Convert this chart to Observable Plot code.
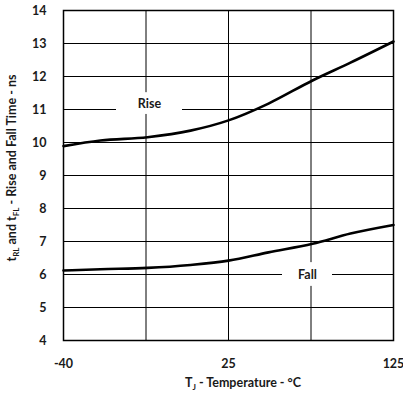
<!DOCTYPE html>
<html><head><meta charset="utf-8">
<script src="https://cdn.jsdelivr.net/npm/d3@7"></script>
<script src="https://cdn.jsdelivr.net/npm/@observablehq/plot@0.6"></script>
<style>
body{margin:0;background:#fff}
svg{font-family:Lato, "Liberation Sans", sans-serif}
</style>
</head><body><div id="chart"></div>
<script>
// Temperature (°C, along printed axis) and times (ns)
const temps = [-40, -21.5, 2, 23.5, 42.5, 62.5, 84.5, 103.5, 125];
const riseNs = [9.89, 10.06, 10.16, 10.36, 10.67, 11.18, 11.88, 12.42, 13.06];
const fallNs = [6.12, 6.16, 6.2, 6.29, 6.42, 6.67, 6.93, 7.24, 7.5];

const yTicks = [4, 5, 6, 7, 8, 9, 10, 11, 12, 13, 14];
const xGrid = [-40, 1.25, 42.5, 83.75, 125];
const xTickPos = [-40, 42.5, 125];
const xTickLabels = ["-40", "25", "125"];

const seriesNames = ["Rise", "Fall"];
const labelX = [3, 82];
const labelY = [11.18, 6.0];
const labelHalfW = [16.5, 12.5];
const labelHalfH = [0.33, 0.36];

const data = [];
temps.forEach((t, i) => data.push({series: "Rise", t, v: riseNs[i]}));
temps.forEach((t, i) => data.push({series: "Fall", t, v: fallNs[i]}));
const labels = seriesNames.map((name, i) => ({name, x: labelX[i], y: labelY[i], hw: labelHalfW[i], hh: labelHalfH[i]}));

const svg = Plot.plot({
  width: 403, height: 393,
  marginLeft: 63, marginRight: 10, marginTop: 10, marginBottom: 53,
  style: {fontFamily: "Lato, 'Liberation Sans', sans-serif", background: "white"},
  x: {domain: [-40, 125]},
  y: {domain: [4, 14]},
  marks: [
    Plot.gridY(yTicks, {stroke: "black", strokeOpacity: 1, strokeWidth: 1}),
    Plot.gridX(xGrid, {stroke: "black", strokeOpacity: 1, strokeWidth: 1}),
    Plot.rect(labels, {x1: d => d.x - d.hw, x2: d => d.x + d.hw, y1: d => d.y - d.hh, y2: d => d.y + d.hh, fill: "white"}),
    Plot.frame({stroke: "black", strokeWidth: 1.5}),
    Plot.line(data, {x: "t", y: "v", z: "series", stroke: "black", strokeWidth: 2.6, curve: "monotone-x"}),
    Plot.text(labels, {x: "x", y: "y", text: "name", fontSize: 12.5, fontWeight: "bold", fill: "#1a1a1a"}),
    Plot.axisY(yTicks, {tickSize: 0, tickPadding: 17, fontSize: 12.5, fontWeight: "bold", fill: "#1a1a1a", label: null, tickFormat: d => String(d)}),
    Plot.axisX(xTickPos, {tickSize: 0, tickPadding: 19, fontSize: 12.5, fontWeight: "bold", fill: "#1a1a1a", label: null, tickFormat: (d, i) => xTickLabels[i]})
  ]
});

const s = d3.select(svg);
// x title
const xt = s.append("text").attr("x", 243).attr("y", 387).attr("text-anchor", "middle")
  .attr("font-size", 12.5).attr("font-weight", "bold").attr("fill", "#1a1a1a");
xt.append("tspan").text("T");
xt.append("tspan").attr("font-size", 8).attr("dy", 3).text("J");
xt.append("tspan").attr("dy", -3).text(" - Temperature - °C");
// y title
const yt = s.append("text").attr("transform", "translate(16,168) rotate(-90)").attr("text-anchor", "middle")
  .attr("font-size", 12.5).attr("font-weight", "bold").attr("fill", "#1a1a1a");
yt.append("tspan").text("t");
yt.append("tspan").attr("font-size", 8).attr("dy", 3).text("RL");
yt.append("tspan").attr("dy", -3).text(" and t");
yt.append("tspan").attr("font-size", 8).attr("dy", 3).text("FL");
yt.append("tspan").attr("dy", -3).text(" - Rise and Fall Time - ns");

document.getElementById("chart").appendChild(svg);
</script>
</body></html>
